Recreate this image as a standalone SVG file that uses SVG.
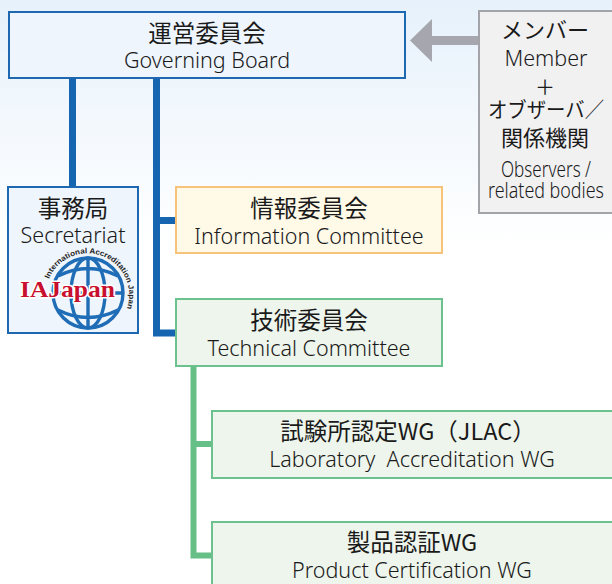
<svg xmlns="http://www.w3.org/2000/svg" width="612" height="584" viewBox="0 0 612 584">
<defs>
<linearGradient id="bg" x1="0" y1="0" x2="0" y2="1">
<stop offset="0" stop-color="#e6f1fb"/>
<stop offset="0.42" stop-color="#ffffff"/>
<stop offset="1" stop-color="#ffffff"/>
</linearGradient>
<path id="arc" d="M49,279 A41,41 0 1 1 126,311"/>
</defs>
<style>
.jp{font-family:"Noto Sans CJK JP","Noto Sans",sans-serif;font-size:23.5px;font-weight:400;fill:#1a1a1a;text-anchor:middle}
.en{font-family:"Noto Sans","Open Sans",sans-serif;font-size:21.5px;font-weight:350;fill:#1a1a1a;text-anchor:middle}
.blue{fill:#eef5fc;stroke:#1e68b2;stroke-width:2}
.orange{fill:#fff9e8;stroke:#f7c27a;stroke-width:2}
.green{fill:#eef5ec;stroke:#6cc28e;stroke-width:2}
.grey{fill:#f1f1f2;stroke:#a3a3aa;stroke-width:2}
.bl{stroke:#1565b0;stroke-width:7;fill:none}
.gl{stroke:#66bf86;stroke-width:6;fill:none}
.globe{fill:none;stroke:#1f6db6;stroke-width:3.4}
</style>
<rect x="0" y="0" width="612" height="584" fill="url(#bg)"/>

<g id="connectors">
<path class="bl" d="M72.5,78 V187"/>
<path class="bl" d="M156.5,78 V333 H176"/>
<path class="bl" d="M156.5,220.5 H176"/>
<path class="gl" d="M193.5,366 V555.5 H212"/>
<path class="gl" d="M193.5,444 H212"/>
<path d="M479,36 H432 V19 L410,40.5 L432,62 V45 H479 Z" fill="#a6a6ae"/>
</g>

<g id="governing-board">
<rect class="blue" x="9" y="12" width="396" height="66"/>
<text class="jp" x="207" y="42">運営委員会</text>
<text class="en" x="207" y="68">Governing Board</text>
</g>

<g id="members">
<rect class="grey" x="479" y="11" width="140" height="202"/>
<text class="jp" x="545" y="38" style="font-size:22px">メンバー</text>
<text class="en" x="546" y="66">Member</text>
<text class="jp" x="545" y="95" style="font-size:20px">＋</text>
<text class="jp" x="546" y="117" style="font-size:21px" textLength="116" lengthAdjust="spacingAndGlyphs">オブザーバ／</text>
<text class="jp" x="545" y="146" style="font-size:22px">関係機関</text>
<text class="en" x="546" y="177" style="font-size:22px" textLength="90" lengthAdjust="spacingAndGlyphs">Observers /</text>
<text class="en" x="546" y="198" style="font-size:22px" textLength="116" lengthAdjust="spacingAndGlyphs">related bodies</text>
</g>

<g id="secretariat">
<rect class="blue" x="8" y="187" width="130" height="146"/>
<text class="jp" x="73" y="217">事務局</text>
<text class="en" x="73" y="243">Secretariat</text>
<g id="logo">
<circle class="globe" cx="88" cy="293" r="35"/>
<ellipse class="globe" cx="88" cy="293" rx="17" ry="35"/>
<path class="globe" d="M88,258 V328 M53,293 H123 M58,276 Q88,261 118,276 M58,310 Q88,325 118,310"/>
<text font-family="'Liberation Sans',sans-serif" font-weight="bold" font-size="7.5" fill="#222" textLength="128" lengthAdjust="spacingAndGlyphs"><textPath href="#arc">International Accreditation Japan</textPath></text>
<text x="20" y="297" font-family="'Liberation Serif',serif" font-weight="bold" font-size="24" fill="#c8102e" stroke="#ffffff" stroke-width="3" paint-order="stroke" textLength="95" lengthAdjust="spacingAndGlyphs">IAJapan</text>
</g>
</g>

<g id="information-committee">
<rect class="orange" x="176" y="187" width="266" height="66"/>
<text class="jp" x="309" y="217">情報委員会</text>
<text class="en" x="309" y="244">Information Committee</text>
</g>

<g id="technical-committee">
<rect class="green" x="176" y="299" width="266" height="67"/>
<text class="jp" x="309" y="329">技術委員会</text>
<text class="en" x="309" y="356">Technical Committee</text>
</g>

<g id="jlac-wg">
<rect class="green" x="212" y="411" width="410" height="67"/>
<text class="jp" x="408" y="440">試験所認定WG（JLAC）</text>
<text class="en" x="412" y="467" xml:space="preserve">Laboratory  Accreditation WG</text>
</g>

<g id="product-wg">
<rect class="green" x="212" y="522" width="410" height="80"/>
<text class="jp" x="412" y="551">製品認証WG</text>
<text class="en" x="412" y="578">Product Certification WG</text>
</g>
</svg>
